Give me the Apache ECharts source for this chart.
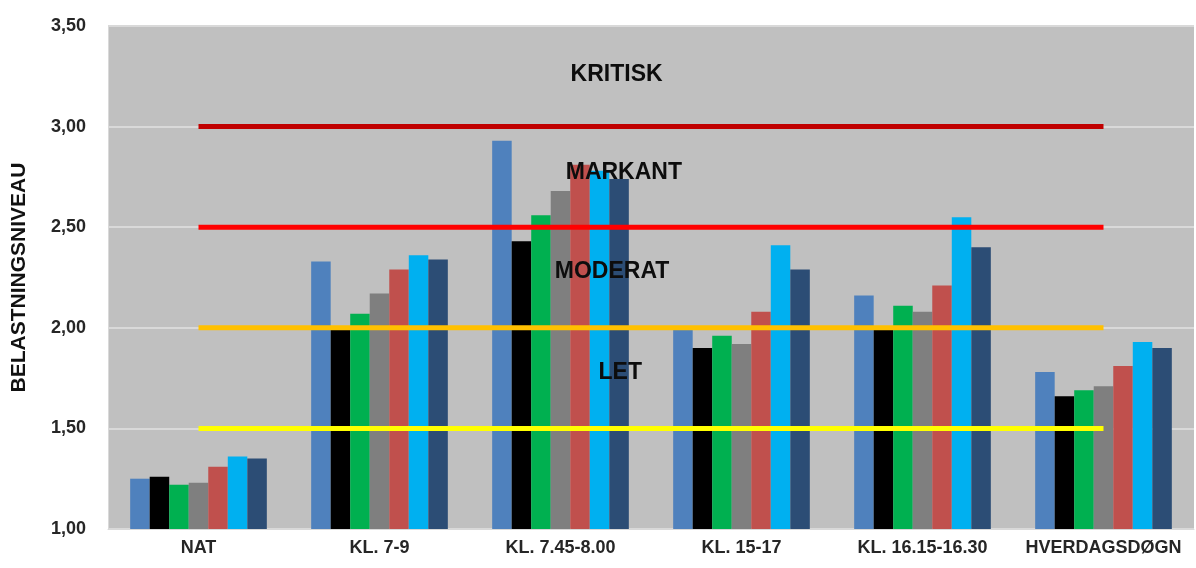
<!DOCTYPE html>
<html>
<head>
<meta charset="utf-8">
<script src="https://cdn.jsdelivr.net/npm/echarts@6/dist/echarts.min.js"></script>
<style>
html,body{margin:0;padding:0;background:#fff;}
#chart{width:1196px;height:568px;}
</style>
</head>
<body>
<div id="chart"></div>
<script>
const categories = ['NAT', 'KL. 7-9', 'KL. 7.45-8.00', 'KL. 15-17', 'KL. 16.15-16.30', 'HVERDAGSDØGN'];
const serie1 = [1.25, 2.33, 2.93, 1.99, 2.16, 1.78];
const serie2 = [1.26, 1.99, 2.43, 1.90, 1.99, 1.66];
const serie3 = [1.22, 2.07, 2.56, 1.96, 2.11, 1.69];
const serie4 = [1.23, 2.17, 2.68, 1.92, 2.08, 1.71];
const serie5 = [1.31, 2.29, 2.81, 2.08, 2.21, 1.81];
const serie6 = [1.36, 2.36, 2.78, 2.41, 2.55, 1.93];
const serie7 = [1.35, 2.34, 2.74, 2.29, 2.40, 1.90];
const barSeries = [serie1, serie2, serie3, serie4, serie5, serie6, serie7];
const barNames = ['Serie 1', 'Serie 2', 'Serie 3', 'Serie 4', 'Serie 5', 'Serie 6', 'Serie 7'];
const barColors = ['#4F81BD', '#000000', '#00B050', '#7F7F7F', '#C0504D', '#00B0F0', '#2C4D75'];

const thresholdValues = [3.0, 2.5, 2.0, 1.5];
const thresholdColors = ['#C00000', '#FF0000', '#FFC000', '#FFFF00'];

const zoneLabels = ['KRITISK', 'MARKANT', 'MODERAT', 'LET'];
const zoneX = [2.31, 2.35, 2.285, 2.33];
const zoneY = [3.26, 2.77, 2.28, 1.775];

const yTicks = { min: 1.0, max: 3.5, interval: 0.5 };
const FONT = 'Liberation Sans, Arial, sans-serif';

const series = [];
barSeries.forEach((vals, i) => {
  series.push({
    name: barNames[i],
    type: 'bar',
    data: vals,
    barGap: '0%',
    barCategoryGap: '24.5%',
    itemStyle: { color: barColors[i] },
    z: 2
  });
});
thresholdValues.forEach((v, i) => {
  series.push({
    type: 'line',
    data: categories.map(() => v),
    symbol: 'none',
    lineStyle: { color: thresholdColors[i], width: 5 },
    z: 5,
    silent: true
  });
});
series.push({
  type: 'scatter',
  xAxisIndex: 1,
  data: zoneLabels.map((t, i) => ({ value: [zoneX[i], zoneY[i]], name: t })),
  symbolSize: 1,
  itemStyle: { color: 'transparent' },
  label: {
    show: true,
    position: 'inside',
    formatter: p => p.name,
    color: '#0d0d0d',
    opacity: 1,
    fontFamily: FONT,
    fontWeight: 'bold',
    fontSize: 23
  },
  z: 10,
  silent: true
});

const chart = echarts.init(document.getElementById('chart'), null, { renderer: 'canvas' });
chart.setOption({
  animation: false,
  backgroundColor: '#ffffff',
  grid: {
    left: 108, right: 2, top: 26, bottom: 39,
    show: true, backgroundColor: '#C0C0C0', borderWidth: 0
  },
  xAxis: [{
    type: 'category',
    data: categories,
    axisLine: { show: true, onZero: false, lineStyle: { color: '#D9D9D9', width: 1 } },
    axisTick: { show: false },
    axisLabel: { color: '#262626', fontFamily: FONT, fontWeight: 'bold', fontSize: 18, margin: 10, interval: 0 },
    splitLine: { show: false }
  }, {
    type: 'value',
    min: -0.5, max: 5.5,
    show: false,
    axisLine: { show: false, onZero: false },
    axisTick: { show: false },
    axisLabel: { show: false },
    splitLine: { show: false },
    splitArea: { show: false }
  }],
  yAxis: {
    type: 'value',
    min: yTicks.min, max: yTicks.max, interval: yTicks.interval,
    name: 'BELASTNINGSNIVEAU',
    nameLocation: 'middle',
    nameRotate: 90,
    nameGap: 78,
    nameTextStyle: { color: '#111111', fontFamily: FONT, fontWeight: 'bold', fontSize: 21 },
    axisLine: { show: true, onZero: false, lineStyle: { color: '#D9D9D9', width: 1 } },
    axisTick: { show: false },
    axisLabel: {
      color: '#262626', fontFamily: FONT, fontWeight: 'bold', fontSize: 18, margin: 22,
      formatter: v => v.toFixed(2).replace('.', ',')
    },
    splitLine: { show: true, lineStyle: { color: '#D9D9D9', width: 2 } }
  },
  series: series
});
</script>
</body>
</html>
